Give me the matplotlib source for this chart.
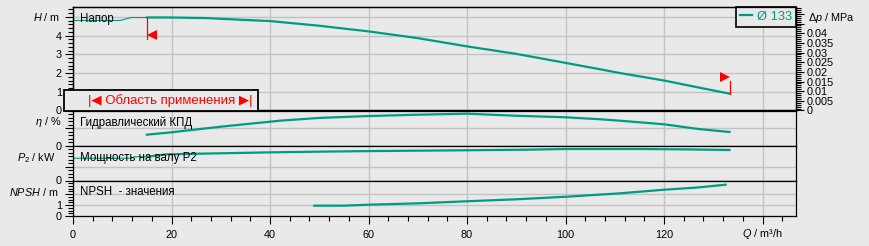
import matplotlib
matplotlib.use('Agg')
import matplotlib.pyplot as plt
import numpy as np
from matplotlib.patches import Rectangle
from matplotlib.ticker import MultipleLocator, FixedLocator, FuncFormatter

plt.rcParams['font.family'] = ['Liberation Sans', 'DejaVu Sans']
plt.rcParams['mathtext.fontset'] = 'custom'
plt.rcParams['mathtext.it'] = 'Liberation Sans:italic'
plt.rcParams['mathtext.rm'] = 'Liberation Sans'

BG = '#e9e9e9'
TEAL = '#009c82'
GRID = '#c3c3c3'
FS = 7.8

# operating range of the pump, m3/h
Q_MIN = 15
Q_MAX = 133.3

# head H, m
q_head = [0, 9.6, 11.8, 15, 20, 27, 34, 40, 46, 50, 60, 70, 80, 90, 100, 107, 111, 120, 126, 133.3]
head = [4.8, 4.8, 4.96, 4.96, 4.96, 4.93, 4.84, 4.77, 4.62, 4.52, 4.22, 3.86, 3.42, 3.02, 2.54, 2.2, 2.0, 1.6, 1.28, 0.9]

# hydraulic efficiency, %
q_eta = [15, 20, 30, 42, 50, 60, 70, 80, 90, 100, 107, 111, 120, 127, 133.3]
eta = [24.7, 30.2, 43, 56.7, 63, 67.4, 70.4, 72.7, 68, 64.5, 60, 56.7, 48.5, 37.7, 30.9]

# shaft power P2, kW
q_p2 = [0, 11.8, 12.5, 15, 19, 40, 50, 60, 80, 92, 100, 115, 125, 133.3]
p2 = [1.59, 1.59, 1.7, 1.7, 1.87, 2.01, 2.06, 2.1, 2.16, 2.2, 2.25, 2.25, 2.22, 2.18]

# NPSH, m
q_npsh = [49, 55, 60, 70, 80, 90, 100, 111, 120, 127, 132.5]
npsh = [0.94, 0.94, 1.03, 1.15, 1.34, 1.52, 1.75, 2.06, 2.39, 2.6, 2.85]

LABEL = 'Ø 133'
MPA_PER_M = 0.0097

W, H = 869, 246
fig = plt.figure(figsize=(W / 100, H / 100), dpi=100, facecolor=BG)


def panel(top, bottom):
    return fig.add_axes([73 / W, 1 - bottom / H, (796 - 73) / W, (bottom - top) / H])


ax_h = panel(7, 110.5)
ax_eta = panel(110.5, 145.5)
ax_p = panel(145.5, 180.5)
ax_n = panel(180.5, 216)

for ax in [ax_h, ax_eta, ax_p, ax_n]:
    ax.set_facecolor(BG)
    ax.set_xlim(0, 146.8)
    ax.xaxis.set_major_locator(MultipleLocator(20))
    ax.xaxis.set_minor_locator(MultipleLocator(4))
    ax.grid(True, which='major', color=GRID, lw=1)
    ax.set_axisbelow(True)
    for s in ax.spines.values():
        s.set_color('black')
        s.set_linewidth(0.9)
    ax.tick_params(axis='x', which='both', length=0, labelbottom=False)
    ax.tick_params(axis='y', which='major', direction='out', length=6, width=0.8,
                   pad=2, labelsize=FS)
    ax.tick_params(axis='y', which='minor', direction='out', length=3.5, width=0.8)

ax_h.spines['bottom'].set_linewidth(1.6)


def only(vals):
    return FuncFormatter(lambda v, p: f'{v:g}' if round(v, 3) in vals else '')


# head panel
ax_h.set_ylim(0, 5.52)
ax_h.yaxis.set_major_locator(MultipleLocator(1))
ax_h.yaxis.set_minor_locator(MultipleLocator(0.2))
ax_h.yaxis.set_major_formatter(only([0, 1, 2, 3, 4]))

ax_eta.set_ylim(0, 80)
ax_eta.yaxis.set_major_locator(FixedLocator([0, 40]))
ax_eta.yaxis.set_minor_locator(MultipleLocator(8))
ax_eta.yaxis.set_major_formatter(only([0]))

ax_p.set_ylim(0, 2.5)
ax_p.yaxis.set_major_locator(FixedLocator([0, 1]))
ax_p.yaxis.set_minor_locator(MultipleLocator(0.25))
ax_p.yaxis.set_major_formatter(only([0]))

ax_n.set_ylim(0, 3.23)
ax_n.yaxis.set_major_locator(FixedLocator([0, 1, 2]))
ax_n.yaxis.set_minor_locator(MultipleLocator(0.25))
ax_n.yaxis.set_major_formatter(only([0, 1]))
ax_n.tick_params(axis='x', which='major', length=6, width=0.8, direction='out',
                 labelbottom=True, labelsize=FS, pad=4)
ax_n.tick_params(axis='x', which='minor', length=3.6, width=0.8, direction='out')
ax_n.xaxis.set_major_formatter(FuncFormatter(lambda v, p: '' if v >= 140 else f'{v:g}'))

# right axis: pressure difference
ax_dp = ax_h.twinx()
ax_dp.set_ylim(0, 5.52 * MPA_PER_M)
ax_dp.yaxis.set_major_locator(MultipleLocator(0.005))
ax_dp.yaxis.set_minor_locator(MultipleLocator(0.001))
ax_dp.yaxis.set_major_formatter(FuncFormatter(lambda v, p: f'{v:g}' if v < 0.0425 else ''))
ax_dp.tick_params(axis='y', which='major', direction='out', length=6, width=0.8, pad=2, labelsize=FS)
ax_dp.tick_params(axis='y', which='minor', direction='out', length=3.5, width=0.8)
for s in ax_dp.spines.values():
    s.set_color('black')
    s.set_linewidth(0.9)


def split(q, v):
    q = np.array(q)
    v = np.array(v)
    return (q[q <= Q_MIN], v[q <= Q_MIN]), (q[q >= Q_MIN], v[q >= Q_MIN])


(qt, ht), (qk, hk) = split(q_head, head)
ax_h.plot(qt, ht, color=TEAL, lw=0.8)
line, = ax_h.plot(qk, hk, color=TEAL, lw=1.6, label=LABEL)

ax_eta.plot(q_eta, eta, color=TEAL, lw=1.6)

(qt, pt), (qk, pk) = split(q_p2, p2)
ax_p.plot(qt, pt, color=TEAL, lw=0.8)
ax_p.plot(qk, pk, color=TEAL, lw=1.6)

ax_n.plot(q_npsh, npsh, color=TEAL, lw=1.6)

# operating range limits
h_min = np.interp(Q_MIN, q_head, head)
h_max = np.interp(Q_MAX, q_head, head)
ax_h.plot([Q_MIN, Q_MIN], [3.84, h_min], color='red', lw=0.9)
ax_h.plot(Q_MIN + 1.1, 4.05, marker='<', color='red', ms=6.5, mew=0)
ax_h.plot([Q_MAX, Q_MAX], [h_max, 1.55], color='red', lw=0.9)
ax_h.plot(Q_MAX - 1.0, 1.81, marker='>', color='red', ms=6.5, mew=0)

leg = ax_h.legend(handles=[line], loc='upper right', fancybox=False, edgecolor='black',
                  facecolor=BG, framealpha=1, borderaxespad=0, handlelength=1.0,
                  handletextpad=0.35, labelcolor=TEAL, fontsize=9.3, borderpad=0.3)
leg.get_frame().set_linewidth(1.2)

# operating range box
fig.add_artist(Rectangle((64 / W, 1 - 110.5 / H), 194 / W, 20.5 / H, transform=fig.transFigure,
                         fc=BG, ec='black', lw=1.3, zorder=5))
fig.text(88 / W, 1 - 100.5 / H, '|◀ Область применения ▶|', color='red', fontsize=9.5,
         ha='left', va='center', zorder=6)

# panel captions
ax_h.text(0.0097, 0.884, 'Напор', transform=ax_h.transAxes, fontsize=8.3, va='center')
ax_eta.text(0.0097, 0.643, 'Гидравлический КПД', transform=ax_eta.transAxes, fontsize=8.3, va='center')
ax_p.text(0.0097, 0.643, 'Мощность на валу P2', transform=ax_p.transAxes, fontsize=8.3, va='center')
ax_n.text(0.0097, 0.662, 'NPSH  - значения', transform=ax_n.transAxes, fontsize=8.3, va='center')


# axis unit labels
def unit(x, y, s, ha='right'):
    fig.text(x / W, 1 - y / H, s, fontsize=FS, ha=ha, va='center')


unit(60, 17, '$H$ / m')
unit(61, 122, '$η$ / %')
unit(56, 158, '$P_2$ / kW')
unit(59, 192.5, '$NPSH$ / m')
unit(808, 18, '$Δp$ / MPa', ha='left')
unit(762, 234, '$Q$ / m³/h', ha='center')

fig.savefig('out.png', dpi=100, facecolor=BG)
